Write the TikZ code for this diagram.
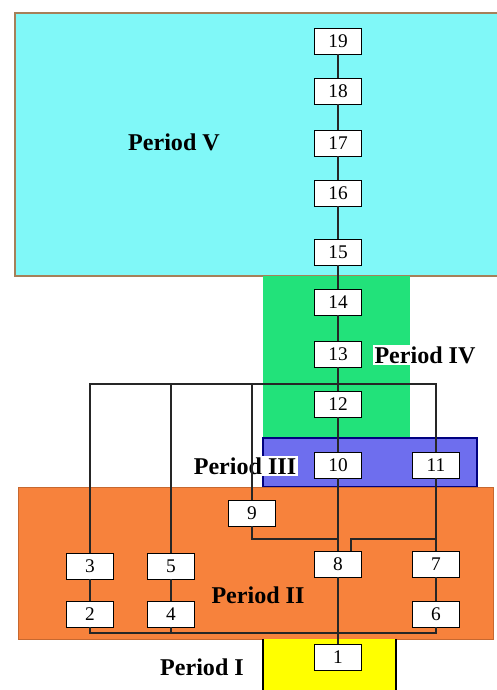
\documentclass[tikz,border=0pt]{standalone}
\usepackage{fontspec}
\setmainfont{Liberation Serif}
\usepackage{tikz}
\usetikzlibrary{positioning,calc}
\pgfdeclarelayer{background}
\pgfsetlayers{background,main}

\definecolor{periodv}{HTML}{80F8F8}
\definecolor{periodiv}{HTML}{22E27A}
\definecolor{periodiii}{HTML}{6E6EEE}
\definecolor{periodii}{HTML}{F7823C}
\definecolor{periodi}{HTML}{FFFF00}

\tikzset{
  numbox/.style={draw, rectangle, fill=white, minimum width=0.94cm, minimum height=0.52cm, inner sep=0pt, font=\fontsize{11}{12}\selectfont},
  periodlabel/.style={rectangle, inner sep=1pt, font=\fontsize{13.7}{15}\selectfont\bfseries},
  link/.style={line width=0.6pt, draw=black!85}
}

\begin{document}
\begin{tikzpicture}[x=0.02cm, y=-0.02cm]
    \useasboundingbox (0,0) rectangle (497,690);

    % main column
    \node[numbox] (n19) at (338,41) {19};
    \node[numbox] (n18) at (338,91) {18};
    \node[numbox] (n17) at (338,143) {17};
    \node[numbox] (n16) at (338,193) {16};
    \node[numbox] (n15) at (338,252) {15};
    \node[numbox] (n14) at (338,302) {14};
    \node[numbox] (n13) at (338,354) {13};
    \node[numbox] (n12) at (338,404) {12};
    \node[numbox] (n10) at (338,465) {10};
    \node[numbox] (n8) at (338,564) {8};
    \node[numbox] (n1) at (338,657) {1};

    % side branches
    \node[numbox] (n11) at (436,465) {11};
    \node[numbox] (n7) at (436,564) {7};
    \node[numbox] (n6) at (436,614) {6};
    \node[numbox] (n9) at (252,513) {9};
    \node[numbox] (n3) at (90,566) {3};
    \node[numbox] (n2) at (90,614) {2};
    \node[numbox] (n5) at (171,566) {5};
    \node[numbox] (n4) at (171,614) {4};

    % period labels
    \node[periodlabel] (period-v) at (174,142) {Period V};
    \node[periodlabel, fill=white] (period-iv) at (425,355) {Period IV};
    \node[periodlabel, fill=white] (period-iii) at (245,466) {Period III};
    \node[periodlabel] (period-ii) at (258,595) {Period II};
    \node[periodlabel] (period-i) at (202,667) {Period I};

    \coordinate (top) at (0,384);
    \coordinate (mid) at (0,539);
    \coordinate (base) at (0,633);

    \foreach \a/\b in {n19/n18,n18/n17,n17/n16,n16/n15,n15/n14,n14/n13,n13/n12,n12/n10,n10/n8,n8/n1,n11/n7,n7/n6,n3/n2,n5/n4}
        \draw[link] (\a) -- (\b);
    \draw[link] (n3) -- (n3 |- top) -- (n11 |- top) -- (n11);
    \draw[link] (n5) -- (n5 |- top);
    \draw[link] (n9) -- (n9 |- top);
    \draw[link] (n9) |- (n8 |- mid);
    \draw[link] ([xshift=0.26cm]n8.north) |- (n7 |- mid);
    \draw[link] (n2) -- (n2 |- base) -- (n6 |- base) -- (n6);
    \draw[link] (n4) -- (n4 |- base);

    \begin{pgfonlayer}{background}
        \filldraw[fill=periodv, draw=brown!60!gray, line width=0.8pt] (15,13) rectangle (505,276);
        \fill[periodiv] (263,276) rectangle (410,438);
        \filldraw[fill=periodiii, draw=blue!50!black, line width=0.6pt] (263,438) rectangle (477,487);
        \filldraw[fill=periodii, draw=periodii!80!black, line width=0.4pt] (18,487) rectangle (493,639);
        \fill[periodi] (263,639) rectangle (396,695);
        \draw[line width=0.6pt] (263,639) -- (263,695) (396,639) -- (396,695);
    \end{pgfonlayer}
\end{tikzpicture}
\end{document}
